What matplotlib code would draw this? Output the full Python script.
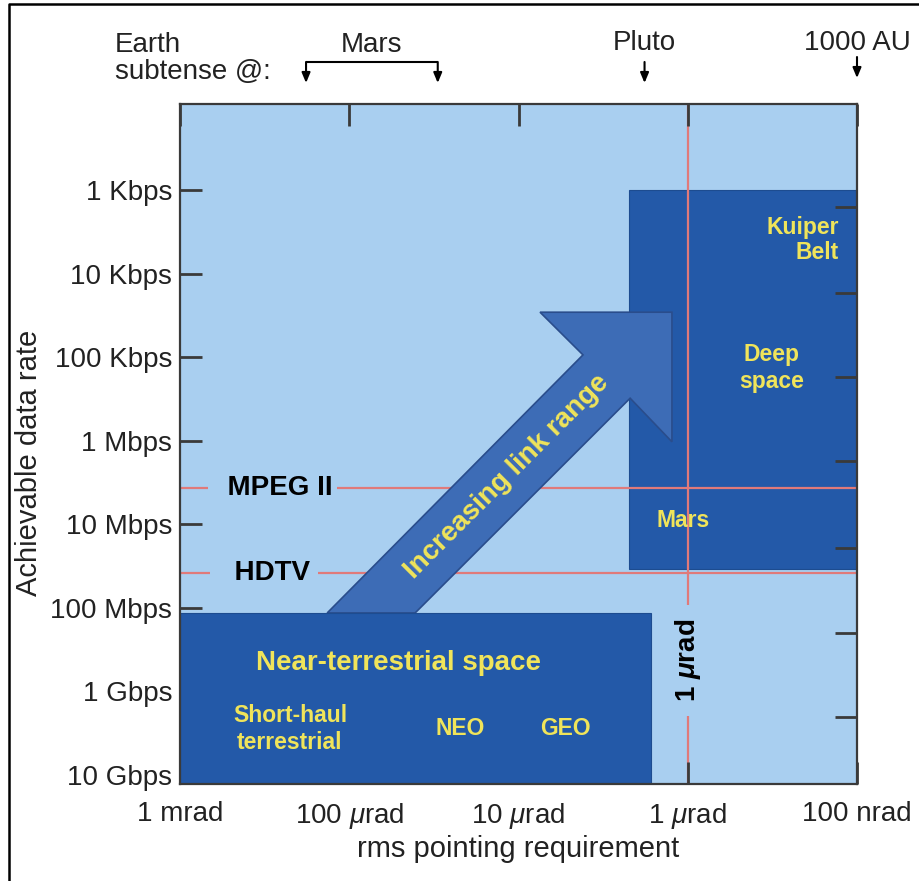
"""
Pointing requirement vs. achievable data rate for optical links.
"""

import matplotlib
matplotlib.use('Agg')
import matplotlib.pyplot as plt
from matplotlib.lines import Line2D
from matplotlib.ticker import NullLocator
from matplotlib.transforms import blended_transform_factory

plt.rcParams['font.family'] = ['Liberation Sans', 'DejaVu Sans']
plt.rcParams['mathtext.fontset'] = 'custom'
plt.rcParams['mathtext.rm'] = 'Liberation Sans'
plt.rcParams['mathtext.it'] = 'Liberation Sans:italic'
plt.rcParams['mathtext.bf'] = 'Liberation Sans:bold:italic'

# axis ticks (x: rms pointing in rad, y: data rate in bps)
X_TICKS = [1e-3, 1e-4, 1e-5, 1e-6, 1e-7]
X_LABELS = ['1 mrad', r'100 $\mu$rad', r'10 $\mu$rad', r'1 $\mu$rad', '100 nrad']
Y_TICKS = [1e3, 1e4, 1e5, 1e6, 1e7, 1e8, 1e9, 1e10]
Y_LABELS = ['1 Kbps', '10 Kbps', '100 Kbps', '1 Mbps', '10 Mbps',
            '100 Mbps', '1 Gbps', '10 Gbps']
RIGHT_TICKS = [1.6e3, 1.7e4, 1.73e5, 1.75e6, 1.92e7, 2.0e8, 2.02e9]

# regions
NEAR_RAD = [1e-3, 1.65e-6]
NEAR_BPS = [1.15e8, 1.28e10]
DEEP_RAD = [2.22e-6, 1e-7]
DEEP_BPS = [1e3, 3.4e7]

# "increasing link range" arrow outline
ARROW_RAD = [1.35e-4, 4.16e-6, 7.46e-6, 1.24e-6, 1.24e-6, 2.19e-6, 4.08e-5]
ARROW_BPS = [1.15e8, 9.4e4, 2.9e4, 2.9e4, 1.03e6, 3.1e5, 1.15e8]

# reference levels
MPEG_BPS = 3.7e6
HDTV_BPS = 3.8e7
ONE_URAD = 1e-6

# Earth subtense
MARS_SUBTENSE = [1.8e-4, 3.0e-5]
PLUTO_SUBTENSE = 1.8e-6
AU1000_SUBTENSE = 1.0e-7

LIGHT = '#a9cff0'
DARK = '#2359a8'
ARROW_FACE = '#3d6cb6'
ARROW_EDGE = '#2a4d8c'
YELLOW = '#f0e45a'
RED = '#e07a7a'
SPINE = '#3a3a3a'
TXT = '#222222'

fig = plt.figure(figsize=(9.19, 8.81), dpi=100)
ax = fig.add_axes([180 / 919, 1 - 784 / 881, 677 / 919, 680 / 881])
ax.set_xscale('log')
ax.set_yscale('log')
ax.set_xlim(1e-3, 1e-7)
ax.set_ylim(1.28e10, 93.6)
ax.set_facecolor(LIGHT)

# boxes
ax.fill([DEEP_RAD[0], DEEP_RAD[1], DEEP_RAD[1], DEEP_RAD[0]],
        [DEEP_BPS[0], DEEP_BPS[0], DEEP_BPS[1], DEEP_BPS[1]],
        facecolor=DARK, edgecolor='#1d4c90', lw=0.8, zorder=1)
ax.axhline(MPEG_BPS, color=RED, lw=1.6, zorder=1.5)
ax.axhline(HDTV_BPS, color=RED, lw=1.6, zorder=1.5)
ax.axvline(ONE_URAD, color=RED, lw=1.6, zorder=1.5)
ax.fill(ARROW_RAD, ARROW_BPS, facecolor=ARROW_FACE, edgecolor=ARROW_EDGE,
        lw=1.2, zorder=2)
ax.fill([NEAR_RAD[0], NEAR_RAD[1], NEAR_RAD[1], NEAR_RAD[0]],
        [NEAR_BPS[0], NEAR_BPS[0], NEAR_BPS[1], NEAR_BPS[1]],
        facecolor=DARK, edgecolor='#1d4c90', lw=0.8, zorder=2)

# ticks
ax.set_xticks(X_TICKS)
ax.set_xticklabels(X_LABELS)
ax.set_yticks(Y_TICKS)
ax.set_yticklabels(Y_LABELS)
ax.xaxis.set_minor_locator(NullLocator())
ax.yaxis.set_minor_locator(NullLocator())
ax.tick_params(axis='x', direction='in', length=16, width=2, color=SPINE,
               top=True, labelsize=20, labelcolor=TXT, pad=12)
ax.tick_params(axis='y', direction='in', length=16, width=2, color=SPINE,
               labelsize=20, labelcolor=TXT, pad=5.5)
for s in ax.spines.values():
    s.set_color(SPINE)
    s.set_linewidth(1.6)

ax2 = ax.twinx()
ax2.set_yscale('log')
ax2.set_ylim(ax.get_ylim())
ax2.set_yticks(RIGHT_TICKS)
ax2.yaxis.set_minor_locator(NullLocator())
ax2.set_yticklabels([])
ax2.tick_params(axis='y', direction='in', length=16, width=2, color=SPINE)
for s in ax2.spines.values():
    s.set_visible(False)

ax.set_xlabel('rms pointing requirement', fontsize=21, color=TXT, labelpad=3)
ax.set_ylabel('Achievable data rate', fontsize=21, color=TXT)
ax.yaxis.set_label_coords(-0.203, 0.472)

# labels on the chart
ax.text(1.25e-4, MPEG_BPS, '  MPEG II', ha='right', va='center', fontsize=20,
        fontweight='bold', color='black', zorder=4,
        bbox=dict(boxstyle='square,pad=0.15', fc=LIGHT, ec='none'))
ax.text(1.71e-4, HDTV_BPS, '  HDTV', ha='right', va='center', fontsize=20,
        fontweight='bold', color='black', zorder=4,
        bbox=dict(boxstyle='square,pad=0.3', fc=LIGHT, ec='none'))
ax.text(ONE_URAD, 4.3e8, r'1 $\mathbf{\mu}$rad', rotation=90, ha='center',
        va='center', fontsize=20, fontweight='bold', color='black', zorder=4,
        bbox=dict(boxstyle='square,pad=0.5', fc=LIGHT, ec='none'))

yb = dict(color=YELLOW, fontweight='bold', ha='center', va='center', zorder=5)
ax.text(5.1e-5, 4.6e8, 'Near-terrestrial space', fontsize=20, **yb)
ax.text(2.24e-4, 2.8e9, 'Short-haul\nterrestrial', fontsize=16.5, **yb)
ax.text(2.22e-5, 2.8e9, 'NEO', fontsize=16.5, **yb)
ax.text(5.3e-6, 2.8e9, 'GEO', fontsize=16.5, **yb)
ax.text(1.28e-7, 4.0e3, 'Kuiper\nBelt', fontsize=16.5, linespacing=1.1,
        **{**yb, 'ha': 'right'})
ax.text(3.2e-7, 1.35e5, 'Deep\nspace', fontsize=16.5, linespacing=1.25, **yb)
ax.text(1.07e-6, 8.9e6, 'Mars', fontsize=16.5, **yb)
ax.text(1.17e-5, 2.7e6, 'Increasing link range', fontsize=20, rotation=45,
        rotation_mode='anchor', **yb)

# Earth subtense annotations above the plot
tr = blended_transform_factory(ax.transData, ax.transAxes)
ax.text(-0.096, 1.0765, 'Earth', transform=ax.transAxes, fontsize=20,
        color=TXT, va='baseline', ha='left')
ax.text(-0.096, 1.0372, 'subtense @:', transform=ax.transAxes, fontsize=20,
        color=TXT, va='baseline', ha='left')

mars_mid = (MARS_SUBTENSE[0] * MARS_SUBTENSE[1]) ** 0.5
ax.text(mars_mid, 1.0765, 'Mars', transform=tr, fontsize=20, color=TXT,
        ha='center', va='baseline')
ax.text(PLUTO_SUBTENSE, 1.0794, 'Pluto', transform=tr, fontsize=20, color=TXT,
        ha='center', va='baseline')
ax.text(AU1000_SUBTENSE, 1.0794, '1000 AU', transform=tr, fontsize=20,
        color=TXT, ha='center', va='baseline')

ax.plot(MARS_SUBTENSE, [1.0618, 1.0618], transform=tr, color='black', lw=1.5,
        clip_on=False, solid_capstyle='butt')
aprops = dict(arrowstyle='-|>,head_length=0.6,head_width=0.25', color='black',
              lw=1.5, shrinkA=0, shrinkB=0)
for x in MARS_SUBTENSE:
    ax.annotate('', xy=(x, 1.0309), xytext=(x, 1.0618), xycoords=tr,
                textcoords=tr, arrowprops=aprops, annotation_clip=False)
ax.annotate('', xy=(PLUTO_SUBTENSE, 1.0309), xytext=(PLUTO_SUBTENSE, 1.0618),
            xycoords=tr, textcoords=tr, arrowprops=aprops,
            annotation_clip=False)
ax.annotate('', xy=(AU1000_SUBTENSE, 1.0382), xytext=(AU1000_SUBTENSE, 1.0691),
            xycoords=tr, textcoords=tr, arrowprops=aprops,
            annotation_clip=False)

# outer frame (left and top edges)
fig.add_artist(Line2D([9 / 919, 9 / 919, 1], [0, 1 - 4 / 881, 1 - 4 / 881],
                      color='black', lw=1.8))

plt.savefig('out.png', dpi=100)
